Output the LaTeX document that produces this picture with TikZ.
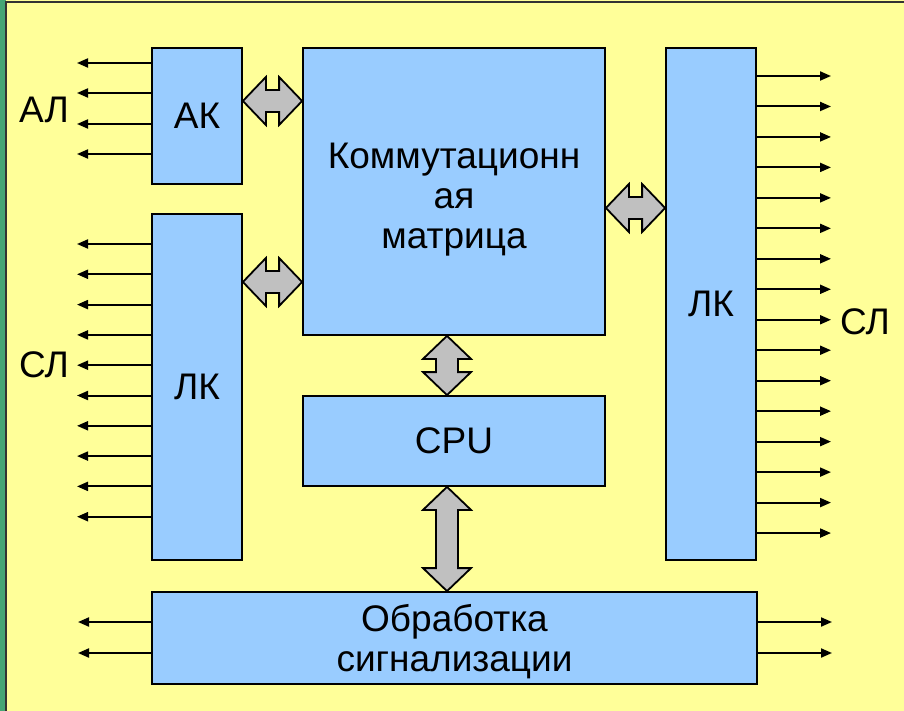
\documentclass[tikz,border=0pt]{standalone}
\usepackage{fontspec}
\setmainfont{Liberation Sans}
\usetikzlibrary{calc,arrows.meta}

\definecolor{slideyellow}{HTML}{FFFF99}
\definecolor{boxblue}{HTML}{99CCFF}
\definecolor{arrowgray}{HTML}{C0C0C0}
\definecolor{stripgreen}{HTML}{45A575}

% fat double arrows between two named points (left->right, top->bottom)
\newcommand{\hdbl}[2]{\draw[fat] (#1) -- ++(23,-24) -- ++(0,13) -- ($(#2)+(-23,-11)$) -- ++(0,-13) -- (#2) -- ++(-23,24) -- ++(0,-13) -- ($(#1)+(23,11)$) -- ++(0,13) -- cycle;}
\newcommand{\vdbl}[2]{\draw[fat] (#1) -- ++(24,23) -- ++(-13,0) -- ($(#2)+(11,-23)$) -- ++(13,0) -- (#2) -- ++(-24,-23) -- ++(13,0) -- ($(#1)+(-11,23)$) -- ++(-13,0) -- cycle;}

\begin{document}
\begin{tikzpicture}[x=1pt, y=-1pt,
  block/.style={draw=black, line width=1.8pt, fill=boxblue, inner sep=0pt, align=center},
  wire/.style={line width=2pt, -{Triangle[length=11pt,width=9pt]}},
  fat/.style={draw=black, line width=1.8pt, fill=arrowgray, line join=miter},
  every node/.style={font=\fontsize{37}{40}\selectfont}]
  \useasboundingbox (0,0) rectangle (904,711);
  \fill[slideyellow] (0,0) rectangle (904,711);
  \fill[stripgreen] (0,0) rectangle (6,711);
  \draw[line width=1.8pt, black!80] (6,711) -- (6,2) -- (904,2);

  % blocks
  \node[block, minimum width=90pt, minimum height=136pt] (ak) at (197,116) {АК};
  \node[block, minimum width=302pt, minimum height=287pt,
    label={[align=center, yshift=-8pt]center:Коммутационн\\ая\\матрица}] (mat) at (454,191.5) {};
  \node[block, minimum width=90pt, minimum height=346pt] (lkl) at (197,387) {ЛК};
  \node[block, minimum width=90pt, minimum height=512pt] (lkr) at (711,304) {ЛК};
  \node[block, minimum width=302pt, minimum height=90pt] (cpu) at (454,441) {CPU};
  \node[block, minimum width=605pt, minimum height=92pt,
    label={[align=center, yshift=-4pt]center:Обработка\\сигнализации}] (obr) at (454.5,638) {};

  % line labels
  \node (al) at (44,110) {АЛ};
  \node (sll) at (44,365) {СЛ};
  \node (slr) at (865,322) {СЛ};

  % subscriber and trunk lines
  \foreach \y [count=\i] in {63,93,124,154}{
    \coordinate (al\i) at (77,\y);
    \draw[wire] (ak.west |- al\i) -- (al\i);
  }
  \foreach \i in {0,...,9}{
    \coordinate (sll\i) at (77,{244+30.3*\i});
    \draw[wire] (lkl.west |- sll\i) -- (sll\i);
  }
  \foreach \i in {0,...,15}{
    \coordinate (slr\i) at (831,{76+30.47*\i});
    \draw[wire] (lkr.east |- slr\i) -- (slr\i);
  }
  \foreach \y [count=\i] in {622,653}{
    \coordinate (obl\i) at (78,\y);
    \coordinate (obr\i) at (832,\y);
    \draw[wire] (obr.west |- obl\i) -- (obl\i);
    \draw[wire] (obr.east |- obr\i) -- (obr\i);
  }

  % fat double arrows
  \coordinate (p1a) at (ak.east |- 0,101);
  \coordinate (p1b) at (mat.west |- 0,101);
  \coordinate (p2a) at (lkl.east |- 0,282);
  \coordinate (p2b) at (mat.west |- 0,282);
  \coordinate (p3a) at (mat.east |- 0,208);
  \coordinate (p3b) at (lkr.west |- 0,208);
  \coordinate (p4a) at (mat.south -| 447,0);
  \coordinate (p4b) at (cpu.north -| 447,0);
  \coordinate (p5a) at (cpu.south -| 447,0);
  \coordinate (p5b) at (obr.north -| 447,0);
  \hdbl{p1a}{p1b}
  \hdbl{p2a}{p2b}
  \hdbl{p3a}{p3b}
  \vdbl{p4a}{p4b}
  \vdbl{p5a}{p5b}
\end{tikzpicture}
\end{document}
